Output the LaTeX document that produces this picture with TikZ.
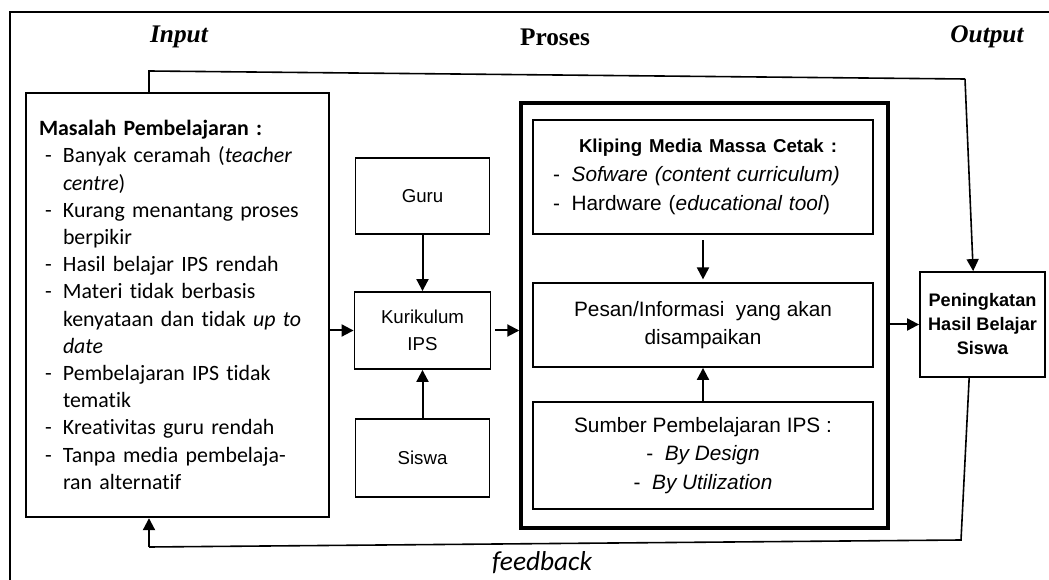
\documentclass[tikz,border=0pt]{standalone}
\usepackage{fontspec}
\setmainfont{Carlito}[Ligatures=NoCommon]
\newfontfamily\arialf{Liberation Sans}
\newfontfamily\timesf{Liberation Serif}
\usetikzlibrary{arrows.meta}
\begin{document}
\begin{tikzpicture}[x=0.75pt,y=-0.75pt,
  box/.style={draw,line width=1.4pt,inner sep=0pt,align=center},
  arr/.style={line width=1.5pt,-{Triangle[length=9pt,width=9pt]}},
  link/.style={line width=1.2pt},
  midtxt/.style={font=\arialf\fontsize{14}{20}\selectfont},
  bigtxt/.style={font=\arialf\fontsize{15.6}{21.5}\selectfont},
  lbl/.style={font=\timesf\fontsize{19}{22}\selectfont\bfseries}]
\useasboundingbox (0,0) rectangle (1049,580);
% outer frame
\draw[line width=1.5pt] (1049,12) -- (10,12) -- (10,580);
% labels
\node[lbl] (inp) at (179,37) {\itshape Input};
\node[lbl] (pro) at (555,37) {Proses};
\node[lbl] (out) at (987,37) {\itshape Output};
% left box
\node[box,line width=1.8pt,minimum width=227.25pt,minimum height=318pt,
  text width=207.75pt,align=left,font=\fontsize{16.4}{20.4}\selectfont]
  (left) at (177.5,305) {%
\textbf{Masalah Pembelajaran :}\\
\hspace*{4.5pt}\makebox[13.5pt][l]{-}Banyak ceramah (\textit{teacher}\\
\hspace*{18pt}\textit{centre})\\
\hspace*{4.5pt}\makebox[13.5pt][l]{-}Kurang menantang proses\\
\hspace*{18pt}berpikir\\
\hspace*{4.5pt}\makebox[13.5pt][l]{-}Hasil belajar IPS rendah\\
\hspace*{4.5pt}\makebox[13.5pt][l]{-}Materi tidak berbasis\\
\hspace*{18pt}kenyataan dan tidak \textit{up to}\\
\hspace*{18pt}\textit{date}\\
\hspace*{4.5pt}\makebox[13.5pt][l]{-}Pembelajaran IPS tidak\\
\hspace*{18pt}tematik\\
\hspace*{4.5pt}\makebox[13.5pt][l]{-}Kreativitas guru rendah\\
\hspace*{4.5pt}\makebox[13.5pt][l]{-}Tanpa media pembelaja-\\
\hspace*{18pt}ran alternatif};
% middle column
\node[box,midtxt,minimum width=100.5pt,minimum height=57pt] (guru) at (422.5,196) {Guru};
\node[box,midtxt,minimum width=102pt,minimum height=57.75pt] (kur) at (422.5,330.5) {Kurikulum\\IPS};
\node[box,midtxt,minimum width=100.5pt,minimum height=58pt] (siswa) at (422.5,458) {Siswa};
% process
\node[draw,line width=2.6pt,minimum width=275.25pt,minimum height=318.75pt,inner sep=0pt] (proc) at (704.5,315.5) {};
\node[box,bigtxt,minimum width=255pt,minimum height=85.5pt,text width=225pt,align=left] (klip) at (703,177) {%
\hspace*{19.5pt}{\fontsize{14}{21.5}\selectfont\bfseries Kliping Media Massa Cetak :}\\
\makebox[14pt][l]{-}\textit{Sofware (content curriculum)}\\
\makebox[14pt][l]{-}Hardware (\textit{educational tool})};
\node[box,bigtxt,minimum width=255pt,minimum height=63pt] (pesan) at (703,325) {Pesan/Informasi\ \ yang akan\\disampaikan};
\node[box,bigtxt,minimum width=255pt,minimum height=80.25pt] (sumber) at (703,455.5) {Sumber Pembelajaran IPS :\\-\ \ \textit{By Design}\\-\ \ \textit{By Utilization}};
% output
\node[box,font=\arialf\fontsize{13.6}{18}\selectfont\bfseries,minimum width=93.75pt,minimum height=78.75pt] (pen) at (982.5,324.5) {Peningkatan\\Hasil Belajar\\Siswa};
% connectors
\draw[arr] (left.east |- kur.west) -- (kur.west);
\draw[arr] (guru) -- (kur);
\draw[arr] (siswa) -- (kur);
\draw[arr,shorten <=3pt] (kur.east) -- (proc.west |- kur.east);
\draw[arr,shorten <=4pt,shorten >=2pt] (klip) -- (pesan);
\draw[arr] (sumber) -- (pesan);
\draw[arr] (proc.east |- pen.west) -- (pen.west);
\coordinate (t1) at (149,71);
\coordinate (t2) at (965,79);
\draw[link] (left.north -| t1) -- (t1) -- (t2);
\draw[arr,line width=1.2pt] (t2) -- ([xshift=-7pt]pen.north);
\coordinate (f1) at (961,540);
\coordinate (f2) at (149,547);
\draw[link] ([xshift=-10pt]pen.south) -- (f1) -- (f2);
\draw[arr] (f2) -- (left.south -| f2);
\node[font=\fontsize{20.5}{24}\selectfont\itshape] (fb) at (542,563) {feedback};
\end{tikzpicture}
\end{document}
